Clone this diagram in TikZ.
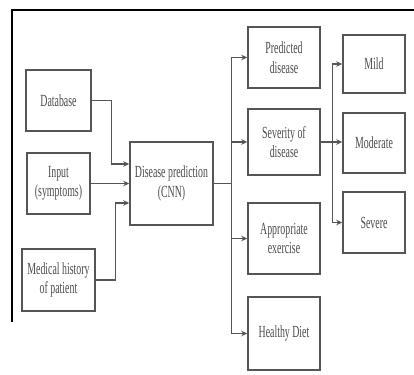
\documentclass[tikz,border=0pt]{standalone}
\usepackage{fontspec}
\setmainfont{Liberation Serif}[FakeStretch=0.58]
\usepackage{xcolor}
\usetikzlibrary{arrows.meta, calc, positioning}
\definecolor{boxgray}{HTML}{555555}
\definecolor{txtgray}{HTML}{4A4A4A}
\tikzset{
    blk/.style={draw=boxgray, line width=1.5pt, align=center, text=txtgray, inner sep=0pt,
        font=\fontsize{17}{19.5}\selectfont},
    arr/.style={draw=boxgray, line width=1.4pt, -{Stealth[length=6pt, width=5.5pt]}},
    ln/.style={draw=boxgray, line width=1.4pt}
}

\begin{document}
\begin{tikzpicture}[x=1pt, y=-1pt]
\useasboundingbox (0,0) rectangle (414,374);
% Frame
\draw[line width=2pt] (12,322) -- (12,10) -- (414,10);

% Inputs
\node[blk, minimum width=65pt, minimum height=61pt] (db) at (58.5,100.5) {Database};
\node[blk, minimum width=63pt, minimum height=61pt] (inp) at (58.5,183.5) {Input\\(symptoms)};
\node[blk, minimum width=73pt, minimum height=62pt] (mh) at (58.5,280) {Medical history\\of patient};

% Model
\node[blk, minimum width=83pt, minimum height=83pt] (cnn) at (171.5,183.5) {Disease prediction\\(CNN)};

% Outputs
\node[blk, minimum width=72pt, minimum height=61pt] (pd) at (284,57.5) {Predicted\\disease};
\node[blk, minimum width=72pt, minimum height=66pt] (sev) at (284,142) {Severity of\\disease};
\node[blk, minimum width=72pt, minimum height=71pt] (ex) at (284,238.5) {Appropriate\\exercise};
\node[blk, minimum width=72pt, minimum height=73pt] (diet) at (284,333.5) {Healthy Diet};

% Severity levels
\node[blk, minimum width=62pt, minimum height=58pt] (mild) at (374,64) {Mild};
\node[blk, minimum width=62pt, minimum height=60pt] (mod) at (374,143) {Moderate};
\node[blk, minimum width=62pt, minimum height=61pt] (svr) at (374,222.5) {Severe};

% Input arrows
\draw[arr] (db.east) -- ++(20,0) |- ([yshift=19.5pt]cnn.west);
\draw[arr] (inp.east) -- (cnn.west);
\draw[arr] (mh.east) -- ++(20,0) |- ([yshift=-19.5pt]cnn.west);

% Output bus
\draw[ln] (cnn.east) -- ++(18,0) coordinate (bus);
\draw[arr] (bus) |- (pd.west);
\draw[arr] (bus) |- (sev.west);
\draw[arr] (bus) |- (ex.west);
\draw[arr] (bus) |- (diet.west);

% Severity bus
\draw[arr] (sev.east) -- (sev.east -| mod.west);
\coordinate (sb) at ([xshift=12pt]sev.east);
\draw[arr] (sb) |- (mild.west);
\draw[arr] (sb) |- (svr.west);
\end{tikzpicture}
\end{document}
